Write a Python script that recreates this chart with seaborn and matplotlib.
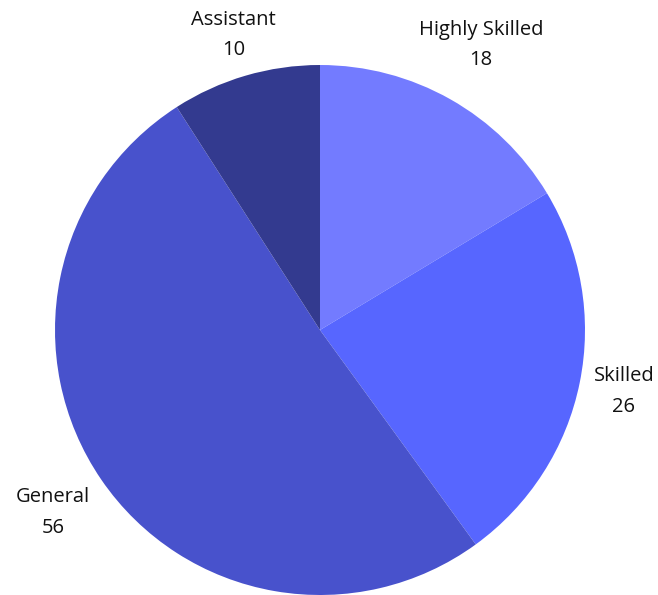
import numpy as np
import matplotlib
matplotlib.use('Agg')
import matplotlib.pyplot as plt
import seaborn as sns

# data
categories = ['Highly Skilled', 'Skilled', 'General', 'Assistant']
counts = [18, 26, 56, 10]
colors = ['#737BFF', '#5766FF', '#4852CC', '#333A8F']

sns.set_theme(style="white")
plt.rcParams['font.family'] = ['Open Sans', 'DejaVu Sans']

fig = plt.figure(figsize=(6.58, 5.95), dpi=100)
# circle centre (320, 330) px, radius ~265 px
ax = fig.add_axes([55 / 658, 0.0, 530 / 658, 530 / 595])

labels = ['{}\n{}'.format(c, v) for c, v in zip(categories, counts)]
wedges, texts = ax.pie(counts, labels=labels, colors=colors, startangle=90,
                       counterclock=False, labeldistance=1.2,
                       wedgeprops={'linewidth': 0, 'edgecolor': 'none'},
                       textprops={'fontsize': 14.5, 'color': '#111111',
                                  'linespacing': 1.7})
# nudge label distances a bit so they sit like the original
label_dist = [1.235, 1.17, 1.22, 1.16]
for w, t, d in zip(wedges, texts, label_dist):
    w.set_clip_on(False)
    ang = np.deg2rad((w.theta1 + w.theta2) / 2)
    t.set_position((d * np.cos(ang), d * np.sin(ang)))
    t.set_ha('center')
    t.set_va('center')

ax.set_xlim(-1, 1)
ax.set_ylim(-1, 1)
ax.set_aspect('equal')
ax.axis('off')

fig.savefig('out.png', dpi=100)
